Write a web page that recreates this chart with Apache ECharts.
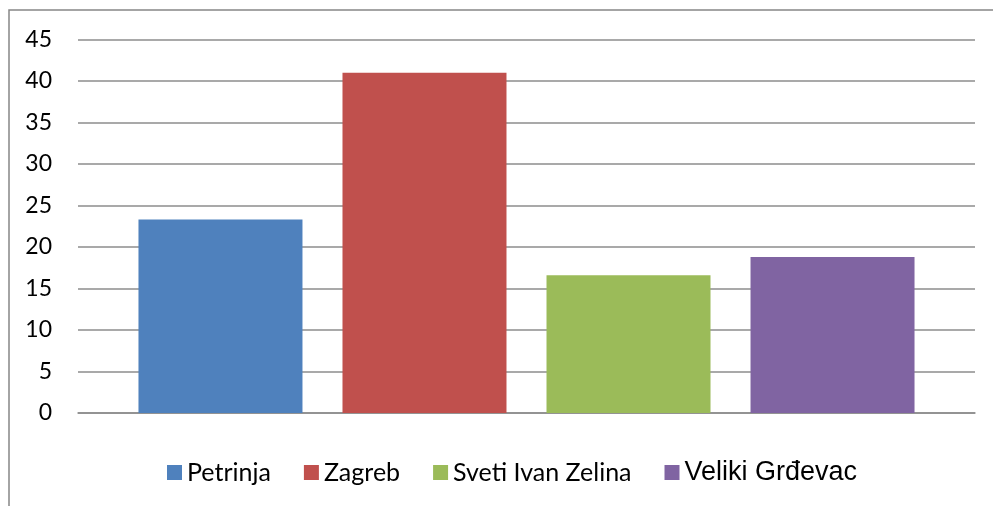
<!DOCTYPE html>
<html>
<head>
<meta charset="UTF-8">
<title>Chart</title>
<script src="https://cdn.jsdelivr.net/npm/echarts@6/dist/echarts.min.js"></script>
<style>
  html, body { margin: 0; padding: 0; background: #fff; }
  #chart { width: 993px; height: 506px; }
</style>
</head>
<body>
<div id="chart"></div>
<script>
// podaci
var categories = [''];
var seriesNames = ['Petrinja', 'Zagreb', 'Sveti Ivan Zelina', 'Veliki Grđevac'];
var seriesValues = [23.3, 41, 16.6, 18.8];
var colors = ['#4F81BD', '#C0504D', '#9BBB59', '#8064A2'];
var yTicks = [0, 5, 10, 15, 20, 25, 30, 35, 40, 45];

var chart = echarts.init(document.getElementById('chart'));

var series = seriesNames.map(function (name, i) {
  return {
    name: name,
    type: 'bar',
    data: [seriesValues[i]],
    barWidth: 164,
    barGap: '24.4%',
    itemStyle: { color: colors[i] },
    animation: false
  };
});

var legendData = seriesNames.map(function (name, i) {
  var item = { name: name };
  if (i === 3) {
    // zadnja stavka je u drugom fontu
    item.textStyle = { fontFamily: 'Liberation Sans', fontSize: 27 };
  }
  return item;
});

var option = {
  animation: false,
  color: colors,
  graphic: [{
    type: 'rect',
    shape: { x: 9, y: 10, width: 1000, height: 600 },
    style: { fill: 'none', stroke: '#868686', lineWidth: 1.5 },
    silent: true
  }],
  grid: { left: 78, right: 18, top: 39.5, bottom: 93 },
  legend: {
    left: 167,
    top: 459,
    padding: 0,
    itemWidth: 15,
    itemHeight: 15,
    itemGap: 33,
    icon: 'rect',
    textStyle: { fontFamily: 'Lato', fontSize: 25, color: '#000' },
    data: legendData
  },
  xAxis: {
    type: 'category',
    data: categories,
    axisLine: { show: true, lineStyle: { color: '#8c8c8c', width: 1.5 } },
    axisTick: { show: false },
    axisLabel: { show: false },
    splitLine: { show: false }
  },
  yAxis: {
    type: 'value',
    min: yTicks[0],
    max: yTicks[yTicks.length - 1],
    interval: 5,
    axisLine: { show: false },
    axisTick: { show: false },
    axisLabel: {
      margin: 26,
      fontFamily: 'Lato',
      fontSize: 23,
      color: '#000'
    },
    splitLine: { lineStyle: { color: '#8c8c8c', width: 1.5 } }
  },
  series: series
};

chart.setOption(option);
</script>
</body>
</html>
